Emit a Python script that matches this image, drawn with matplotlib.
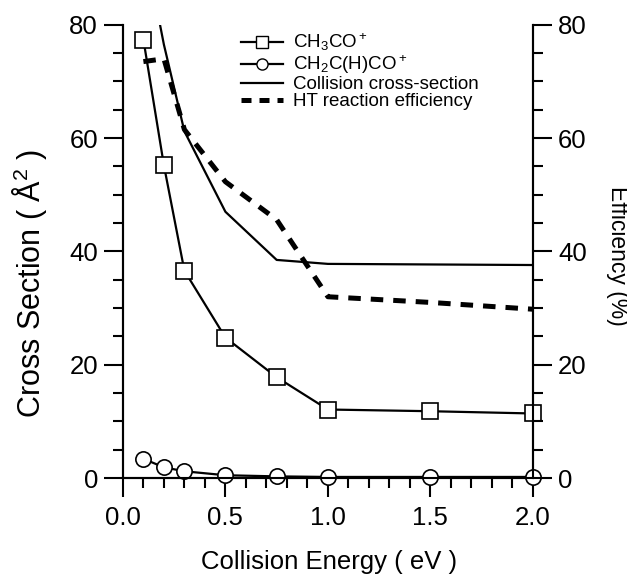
import numpy as np
import matplotlib
matplotlib.use("Agg")
import matplotlib.pyplot as plt
from matplotlib.lines import Line2D
from matplotlib.ticker import MultipleLocator

plt.rcParams['font.family'] = ['Liberation Sans', 'DejaVu Sans']
plt.rcParams['mathtext.default'] = 'regular'

# collision energies (eV)
energy = [0.1, 0.2, 0.3, 0.5, 0.75, 1.0, 1.5, 2.0]

# cross sections (A^2)
ch3co = [77.4, 55.2, 36.6, 24.8, 17.8, 12.1, 11.8, 11.4]
ch2chco = [3.4, 1.9, 1.2, 0.5, 0.3, 0.2, 0.2, 0.2]
collision_xs = [95.0, 76.5, 61.2, 47.0, 38.5, 37.8, 37.7, 37.6]

# HT reaction efficiency (%)
ht_eff = [73.5, 74.0, 61.5, 52.3, 45.6, 32.0, 31.0, 29.8]

fig = plt.figure(figsize=(6.27, 5.76), dpi=100)
ax = fig.add_axes([0.196, 0.170, 0.654, 0.787])
ax2 = ax.twinx()

mk = dict(markersize=11, markerfacecolor='white', markeredgecolor='black', markeredgewidth=1.2)
ax.plot(energy, collision_xs, color='black', lw=1.6, zorder=2)
ax.plot(energy, ch3co, color='black', lw=1.6, marker='s', zorder=3, clip_on=False, **mk)
ax.plot(energy, ch2chco, color='black', lw=1.6, marker='o', zorder=3, clip_on=False, **mk)
ax2.plot(energy, ht_eff, color='black', lw=3.6, dashes=(2.5, 2.0), zorder=2)

for a in (ax, ax2):
    a.set_xlim(0, 2.0)
    a.set_ylim(0, 80)
    a.yaxis.set_major_locator(MultipleLocator(20))
    a.yaxis.set_minor_locator(MultipleLocator(5))
    for s in a.spines.values():
        s.set_linewidth(1.5)
    a.tick_params(which='major', direction='out', length=14, width=1.5, labelsize=18.5, pad=4)
    a.tick_params(which='minor', direction='out', length=7.5, width=1.5)

ax.xaxis.set_major_locator(MultipleLocator(0.5))
ax.xaxis.set_minor_locator(MultipleLocator(0.1))
ax.set_xticks([0.0, 0.5, 1.0, 1.5, 2.0])
ax.set_xticklabels(['0.0', '0.5', '1.0', '1.5', '2.0'])
ax.spines['top'].set_visible(False)
ax2.spines['top'].set_visible(False)
ax.tick_params(axis='x', which='major', pad=6)

ax.set_xlabel('Collision Energy ( eV )', fontsize=18.5, va='center')
ax.xaxis.set_label_coords(0.502, -0.185)
ax.set_ylabel('Cross Section ( Å$^2$ )', fontsize=22, va='center')
ax.yaxis.set_label_coords(-0.227, 0.43)
ax2.set_ylabel('Efficiency (%)', fontsize=16.5, rotation=-90, va='center', ha='center')
ax2.yaxis.set_label_coords(1.205, 0.49)

handles = [
    Line2D([], [], color='black', lw=1.6, marker='s', markersize=8,
           markerfacecolor='white', markeredgecolor='black'),
    Line2D([], [], color='black', lw=1.6, marker='o', markersize=8,
           markerfacecolor='white', markeredgecolor='black'),
    Line2D([], [], color='black', lw=1.6),
    Line2D([], [], color='black', lw=3.6, dashes=(2.0, 1.6)),
]
labels = ['CH$_3$CO$^+$', 'CH$_2$C(H)CO$^+$', 'Collision cross-section', 'HT reaction efficiency']
fig.legend(handles, labels, loc='upper left', bbox_to_anchor=(0.385, 0.945),
           frameon=False, fontsize=13.5, handlelength=2.2, handletextpad=0.55,
           labelspacing=0.0, borderpad=0, borderaxespad=0)

plt.savefig('out.png', dpi=100)
